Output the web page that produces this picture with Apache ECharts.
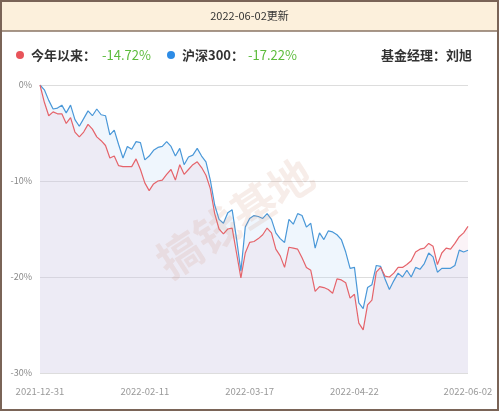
<!DOCTYPE html>
<html><head><meta charset="utf-8">
<script src="https://cdn.jsdelivr.net/npm/echarts@6/dist/echarts.min.js"></script>
<style>html,body{margin:0;padding:0;background:#fff}#c{width:499px;height:411px}</style>
</head><body><div id="c"></div>
<script>
const dates = ['2021-12-31','2022-01-04','2022-01-05','2022-01-06','2022-01-07','2022-01-10','2022-01-11','2022-01-12','2022-01-13','2022-01-14','2022-01-17','2022-01-18','2022-01-19','2022-01-20','2022-01-21','2022-01-24','2022-01-25','2022-01-26','2022-01-27','2022-01-28','2022-02-07','2022-02-08','2022-02-09','2022-02-10','2022-02-11','2022-02-14','2022-02-15','2022-02-16','2022-02-17','2022-02-18','2022-02-21','2022-02-22','2022-02-23','2022-02-24','2022-02-25','2022-02-28','2022-03-01','2022-03-02','2022-03-03','2022-03-04','2022-03-07','2022-03-08','2022-03-09','2022-03-10','2022-03-11','2022-03-14','2022-03-15','2022-03-16','2022-03-17','2022-03-18','2022-03-21','2022-03-22','2022-03-23','2022-03-24','2022-03-25','2022-03-28','2022-03-29','2022-03-30','2022-03-31','2022-04-01','2022-04-06','2022-04-07','2022-04-08','2022-04-11','2022-04-12','2022-04-13','2022-04-14','2022-04-15','2022-04-18','2022-04-19','2022-04-20','2022-04-21','2022-04-22','2022-04-25','2022-04-26','2022-04-27','2022-04-28','2022-04-29','2022-05-05','2022-05-06','2022-05-09','2022-05-10','2022-05-11','2022-05-12','2022-05-13','2022-05-16','2022-05-17','2022-05-18','2022-05-19','2022-05-20','2022-05-23','2022-05-24','2022-05-25','2022-05-26','2022-05-27','2022-05-30','2022-05-31','2022-06-01','2022-06-02'];
const tickLabels = ['2021-12-31','2022-02-11','2022-03-17','2022-04-22','2022-06-02'];
const fund = [0,-1.8,-3.2,-2.8,-3.0,-3.0,-4.0,-3.4,-4.9,-5.4,-4.9,-4.1,-4.6,-5.4,-5.8,-6.3,-7.6,-7.4,-8.4,-8.5,-8.5,-8.5,-7.7,-8.8,-10.2,-11.0,-10.3,-10.0,-9.9,-9.3,-8.8,-9.9,-8.3,-9.3,-8.8,-8.3,-8.0,-8.6,-9.4,-10.8,-13.4,-15.0,-15.5,-15.0,-14.9,-17.5,-20.1,-17.5,-16.4,-16.3,-16.0,-15.6,-14.9,-15.4,-17.1,-17.8,-19.0,-16.9,-17.0,-17.1,-18.0,-19.0,-19.3,-21.5,-21.0,-21.1,-21.3,-21.7,-20.2,-20.3,-20.6,-22.2,-21.8,-24.8,-25.5,-22.9,-22.4,-19.5,-19.0,-19.9,-20.0,-19.6,-19.0,-19.0,-18.7,-18.3,-17.4,-17.1,-17.0,-16.5,-16.8,-18.7,-17.5,-17.0,-17.1,-16.5,-15.8,-15.4,-14.72];
const hs300 = [0,-0.5,-1.6,-2.5,-2.4,-2.1,-2.9,-2.1,-3.6,-4.3,-3.5,-2.7,-3.2,-2.5,-3.1,-3.2,-5.2,-4.7,-6.2,-7.6,-6.4,-6.7,-5.9,-6.0,-7.8,-7.4,-6.8,-6.5,-6.4,-5.9,-6.4,-7.4,-6.6,-8.3,-7.5,-7.3,-6.6,-7.4,-8.0,-9.9,-12.5,-14.0,-14.4,-13.3,-13.0,-16.0,-19.4,-14.8,-13.9,-13.6,-13.7,-13.9,-13.4,-14.0,-15.4,-16.0,-16.4,-14.0,-14.5,-13.4,-13.6,-14.8,-14.4,-17.0,-15.4,-16.1,-15.2,-15.3,-15.6,-16.1,-17.4,-19.1,-19.0,-22.7,-23.3,-21.1,-20.8,-18.8,-18.9,-20.2,-21.3,-20.4,-19.6,-20.0,-19.3,-20.0,-19.0,-19.2,-18.6,-17.5,-17.9,-19.5,-19.1,-19.1,-19.1,-18.8,-17.2,-17.4,-17.22];
const yTicks = [0,-10,-20,-30];

const chart = echarts.init(document.getElementById('c'));
const ff = '"Noto Sans CJK SC","Noto Sans",sans-serif';
chart.setOption({
  animation:false,
  textStyle:{fontFamily:ff},
  grid:{left:40,right:31,top:85,bottom:38},
  graphic:[
    {type:'rect',shape:{x:0,y:0,width:499,height:31},style:{fill:'#fcf0dc'},z:-1},
    {type:'line',shape:{x1:0,y1:31,x2:499,y2:31},style:{stroke:'#8a7465',lineWidth:1.5}},
    {type:'rect',shape:{x:1,y:1,width:497,height:409},style:{fill:'none',stroke:'#7a6457',lineWidth:2},z:100},
    {type:'text',x:249.5,y:16,style:{text:'2022-06-02更新',font:'11px '+ff,fill:'#333',textAlign:'center',textVerticalAlign:'middle'}},
    {type:'circle',shape:{cx:20,cy:55,r:4},style:{fill:'#e8545a'}},
    {type:'text',x:31,y:55,style:{text:'今年以来：',font:'bold 13px '+ff,fill:'#333',textVerticalAlign:'middle'}},
    {type:'text',x:102,y:55,style:{text:'-14.72%',font:'13px '+ff,fill:'#5cbc3c',textVerticalAlign:'middle'}},
    {type:'circle',shape:{cx:171,cy:55,r:4},style:{fill:'#2d8ce6'}},
    {type:'text',x:182,y:55,style:{text:'沪深300：',font:'bold 13px '+ff,fill:'#333',textVerticalAlign:'middle'}},
    {type:'text',x:248,y:55,style:{text:'-17.22%',font:'13px '+ff,fill:'#5cbc3c',textVerticalAlign:'middle'}},
    {type:'text',x:472,y:55,style:{text:'基金经理：刘旭',font:'bold 13px '+ff,fill:'#333',textAlign:'right',textVerticalAlign:'middle'}},
    {type:'text',x:235,y:218,rotation:0.58,style:{text:'搞钱基地',font:'bold 44px '+ff,fill:'rgba(205,140,120,0.16)',textAlign:'center',textVerticalAlign:'middle'},z:50}
  ],
  xAxis:{type:'category',data:dates,boundaryGap:false,
    axisLine:{show:false},axisTick:{show:false},
    axisLabel:{color:'#999',fontSize:9.5,margin:14,interval:(i,v)=>tickLabels.includes(v),showMinLabel:true,showMaxLabel:true}},
  yAxis:{type:'value',min:-30,max:0,interval:10,
    axisLabel:{color:'#888',fontSize:9,formatter:v=>yTicks.includes(v)?v+'%':''},
    splitLine:{lineStyle:{color:'#ddd'}}},
  series:[
    {type:'line',data:hs300,symbol:'none',lineStyle:{color:'#4a98d8',width:1.2},
      areaStyle:{color:'rgba(190,220,248,0.35)',origin:'start'}},
    {type:'line',data:fund,symbol:'none',lineStyle:{color:'#e5646b',width:1.2},
      areaStyle:{color:'rgba(225,170,195,0.2)',origin:'start'}}
  ]
});
</script></body></html>
